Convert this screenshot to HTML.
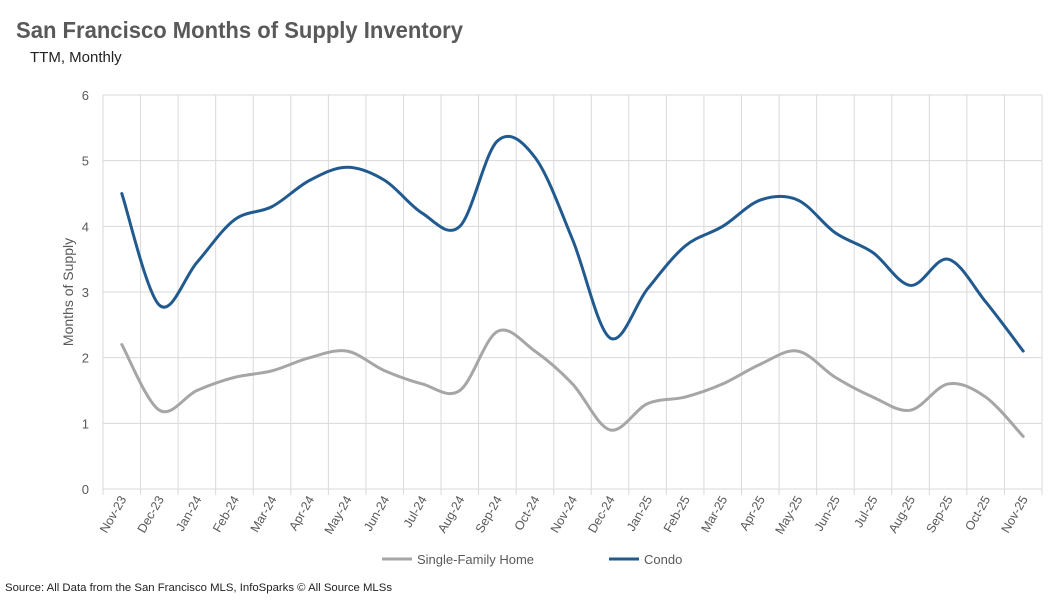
<!DOCTYPE html>
<html><head><meta charset="utf-8"><style>
body{margin:0;background:#fff;font-family:"Liberation Sans",sans-serif}
svg{display:block}
</style></head><body>
<svg id="c" width="1062" height="604">
<text x="16" y="38" font-size="23" font-weight="bold" fill="#595959" textLength="447" lengthAdjust="spacingAndGlyphs">San Francisco Months of Supply Inventory</text>
<text x="30" y="62" font-size="15" fill="#222">TTM, Monthly</text>
<text transform="translate(73,292) rotate(-90)" text-anchor="middle" font-size="14" fill="#595959">Months of Supply</text>
<g id="grid"></g><g id="lines"></g><g id="xl"></g>
<g>
<line x1="382" y1="559" x2="412" y2="559" stroke="#a6a6a6" stroke-width="3"/>
<text x="417" y="564" font-size="13" fill="#595959">Single-Family Home</text>
<line x1="609" y1="559" x2="639" y2="559" stroke="#215a8f" stroke-width="3"/>
<text x="644" y="564" font-size="13" fill="#595959">Condo</text>
</g>
<text x="5" y="591" font-size="11" fill="#222" textLength="387" lengthAdjust="spacingAndGlyphs">Source: All Data from the San Francisco MLS, InfoSparks © All Source MLSs</text>
</svg>
<script>
const categories=["Nov-23","Dec-23","Jan-24","Feb-24","Mar-24","Apr-24","May-24","Jun-24","Jul-24","Aug-24","Sep-24","Oct-24","Nov-24","Dec-24","Jan-25","Feb-25","Mar-25","Apr-25","May-25","Jun-25","Jul-25","Aug-25","Sep-25","Oct-25","Nov-25"];
const condo=[4.5,2.8,3.45,4.1,4.3,4.7,4.9,4.7,4.2,4.0,5.3,5.05,3.8,2.3,3.05,3.7,4.0,4.4,4.4,3.9,3.6,3.1,3.5,2.85,2.1];
const sfh=[2.2,1.2,1.5,1.7,1.8,2.0,2.1,1.8,1.6,1.5,2.4,2.1,1.6,0.9,1.3,1.4,1.6,1.9,2.1,1.7,1.4,1.2,1.6,1.4,0.8];
const yTicks=[0,1,2,3,4,5,6];
const NS="http://www.w3.org/2000/svg";
const L=103,R=1042,T=95,B=489,bw=(R-L)/categories.length;
const x=i=>L+(i+0.5)*bw, y=v=>B-(v/6)*(B-T);
function mk(t,a,p){const e=document.createElementNS(NS,t);for(const k in a)e.setAttribute(k,a[k]);p.appendChild(e);return e;}
const g=document.getElementById('grid'),ln=document.getElementById('lines'),xl=document.getElementById('xl');
yTicks.forEach(v=>{
const l=mk('line',{x1:L,x2:R,y1:y(v),y2:y(v),stroke:'#d9d9d9','stroke-width':1},g);


const t=mk('text',{x:L-14,y:y(v)+5,'text-anchor':'end','font-size':13,fill:'#595959'},g);
t.textContent=v;


});
for(let i=0;i<=categories.length;i++){
const X=L+i*bw;
const l=mk('line',{x1:X,x2:X,y1:T,y2:B+6,stroke:'#d9d9d9','stroke-width':1},g);


}
categories.forEach((c,i)=>{
const t=mk('text',{transform:`translate(${x(i)+5},${B+10}) rotate(-60)`,'text-anchor':'end','font-size':12.5,fill:'#595959'},xl);
t.textContent=c;


});
function path(d){
const p=d.map((v,i)=>[x(i),y(v)]);let s=`M${p[0][0]},${p[0][1]}`;
for(let i=0;i<p.length-1;i++){const p0=p[Math.max(0,i-1)],p1=p[i],p2=p[i+1],p3=p[Math.min(p.length-1,i+2)];
const k=1/6;s+=` C${p1[0]+(p2[0]-p0[0])*k},${p1[1]+(p2[1]-p0[1])*k} ${p2[0]-(p3[0]-p1[0])*k},${p2[1]-(p3[1]-p1[1])*k} ${p2[0]},${p2[1]}`;}
return s;}
const a=mk('path',{d:path(sfh),fill:'none',stroke:'#a6a6a6','stroke-width':3,'stroke-linecap':'round'},ln);


const b=mk('path',{d:path(condo),fill:'none',stroke:'#215a8f','stroke-width':3,'stroke-linecap':'round'},ln);


</script>
</body></html>
